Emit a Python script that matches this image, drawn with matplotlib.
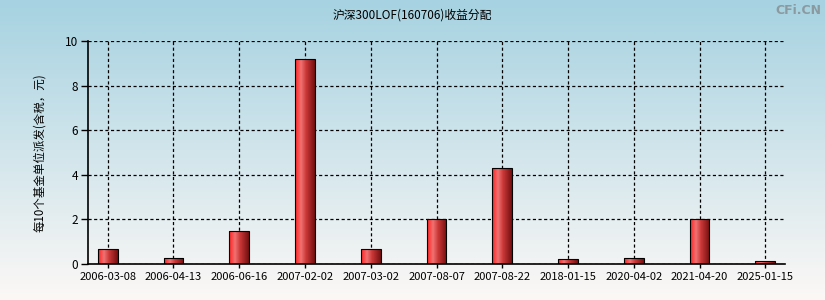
import numpy as np
import matplotlib
matplotlib.use("Agg")
import matplotlib.pyplot as plt
from matplotlib.colors import LinearSegmentedColormap

plt.rcParams['font.family'] = ['Noto Sans CJK SC', 'DejaVu Sans']

dates = ["2006-03-08", "2006-04-13", "2006-06-16", "2007-02-02", "2007-03-02",
         "2007-08-07", "2007-08-22", "2018-01-15", "2020-04-02", "2021-04-20",
         "2025-01-15"]
values = [0.67, 0.27, 1.5, 9.2, 0.68, 2.0, 4.3, 0.22, 0.28, 2.0, 0.13]
title = "沪深300LOF(160706)收益分配"
ylabel = "每10个基金单位派发(含税，元)"
yticks = [0, 2, 4, 6, 8, 10]

fig = plt.figure(figsize=(8.25, 3.0), dpi=100)

# figure background gradient
bg = fig.add_axes([0, 0, 1, 1], zorder=-10)
top = np.array([166, 210, 225]) / 255
bot = np.array([252, 248, 246]) / 255
t = np.linspace(0, 1, 300)[:, None]
grad = top[None, :] * (1 - t) + bot[None, :] * t
bg.imshow(grad[:, None, :], aspect='auto', extent=[0, 1, 0, 1])
bg.axis('off')

ax = fig.add_axes([88/825, 1 - 264/300, (785-88)/825, (264-41)/300])
ax.patch.set_alpha(0)

x = np.arange(len(dates))
bars = ax.bar(x, values, width=0.3, facecolor='none', edgecolor='black', linewidth=0.8, zorder=3)

cmap = LinearSegmentedColormap.from_list('barg', [
    (0.0, (1.0, 0.13, 0.13)),
    (0.3, (0.94, 0.45, 0.45)),
    (0.55, (0.80, 0.22, 0.22)),
    (1.0, (0.45, 0.06, 0.06)),
])
gradrow = np.linspace(0, 1, 64)[None, :]
for b in bars:
    x0, y0 = b.get_x(), b.get_y()
    w, h = b.get_width(), b.get_height()
    im = ax.imshow(gradrow, cmap=cmap, aspect='auto',
                   extent=[x0, x0 + w, y0, y0 + h], zorder=2)
    im.set_clip_path(b)

ax.set_xlim(-0.3, len(dates) - 1 + 0.3)
ax.set_ylim(0, 10)
ax.set_yticks(yticks)
ax.set_xticks(x)
ax.set_xticklabels(dates)
ax.tick_params(axis='both', colors='black', direction='out')
ax.tick_params(axis='y', length=5, width=1, pad=2, labelsize=8.5)
ax.tick_params(axis='x', length=3, width=1, pad=3, labelsize=8)
ax.grid(True, color='black', linestyle=(0, (2.5, 2)), linewidth=0.9, zorder=1)
ax.set_axisbelow(True)
for s in ['top', 'right']:
    ax.spines[s].set_visible(False)
ax.spines['left'].set_linewidth(1.2)
ax.spines['bottom'].set_linewidth(1.2)
ax.set_ylabel(ylabel, fontsize=8.3, labelpad=14)

fig.text(0.5, 1 - 15/300, title, ha='center', va='center', fontsize=8.5)
fig.text(0.995, 1 - 10/300, "CFi.CN", ha='right', va='center', fontsize=9,
         color='#8a9aa0', fontweight='bold', family='DejaVu Sans')

fig.savefig("out.png", dpi=100)
